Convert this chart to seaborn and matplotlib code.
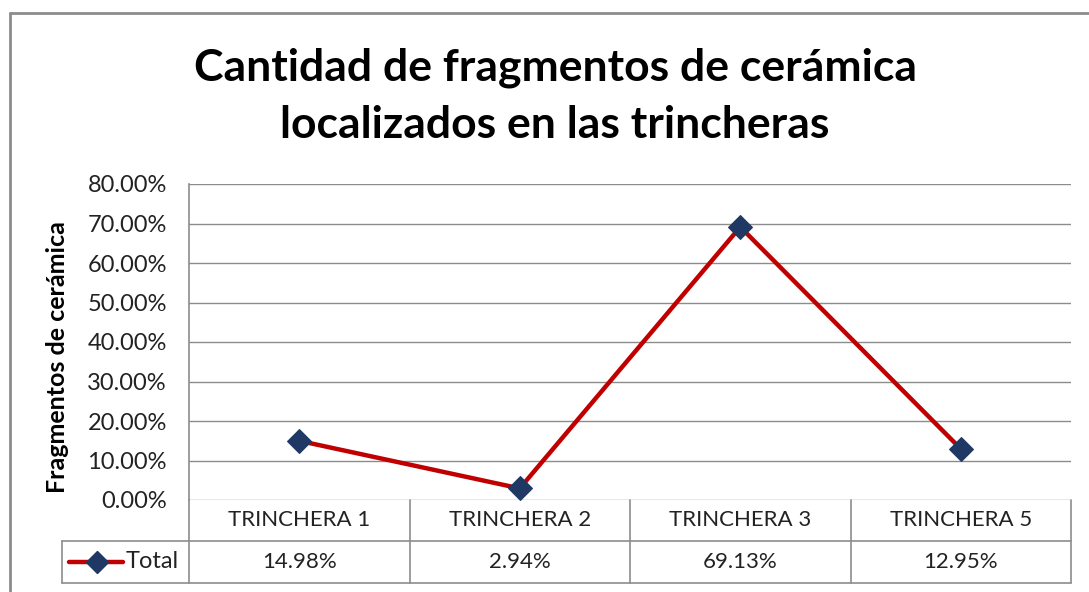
import matplotlib
matplotlib.use("Agg")
import matplotlib.pyplot as plt
from matplotlib.lines import Line2D
import seaborn as sns
import pandas as pd

categories = ["TRINCHERA 1", "TRINCHERA 2", "TRINCHERA 3", "TRINCHERA 5"]
totals = [14.98, 2.94, 69.13, 12.95]
y_ticks = [0, 10, 20, 30, 40, 50, 60, 70, 80]
series_name = "Total"
title_lines = ["Cantidad de fragmentos de cerámica", "localizados en las trincheras"]
y_label = "Fragmentos de cerámica"

sns.set_theme(style="white")
plt.rcParams["font.family"] = ["Lato", "DejaVu Sans"]

W, H = 1089, 592
fig = plt.figure(figsize=(W / 100, H / 100), dpi=100)
fig.patch.set_facecolor("white")

def fx(px):
    return px / W

def fy(py):
    return 1 - py / H

# chart frame
frame_col = "#8c8c8c"
fig.add_artist(Line2D([fx(10), fx(W)], [fy(13), fy(13)], color=frame_col, lw=2))
fig.add_artist(Line2D([fx(10), fx(10)], [fy(13), fy(H)], color=frame_col, lw=2))

left, right, top, bottom = 189, 1071, 184, 500
ax = fig.add_axes([fx(left), fy(bottom), fx(right - left), (bottom - top) / H])

df = pd.DataFrame({"cat": categories, "val": totals, "x": range(len(categories))})
red = "#C00000"
navy = "#1F3864"
sns.lineplot(data=df, x="x", y="val", ax=ax, color=red, lw=3.2,
             marker="D", markersize=12, markerfacecolor=navy,
             markeredgecolor=navy, sort=False)

ax.set_xlim(-0.5, len(categories) - 0.5)
ax.set_ylim(0, 80)
ax.set_yticks(y_ticks)
ax.set_yticklabels([f"{t:.2f}%" for t in y_ticks], fontsize=17, color="#222222")
ax.set_xticks([])
ax.set_xlabel("")
ax.set_ylabel("")
ax.tick_params(axis="y", length=0, pad=16)
grid_col = "#8c8c8c"
ax.grid(axis="y", color=grid_col, lw=1)
for side in ["right", "bottom", "top"]:
    ax.spines[side].set_visible(False)
ax.spines["left"].set_color(grid_col)
ax.spines["left"].set_linewidth(1.2)

# data table below the plot area
row1_top, row_mid, row2_bot = 500, 541, 583
col_w = (right - left) / len(categories)
tcol = "#8c8c8c"
lines = [
    ([left, right], [row_mid, row_mid]),
    ([62, right], [row2_bot, row2_bot]),
    ([62, left], [row_mid, row_mid]),
    ([62, 62], [row_mid, row2_bot]),
    ([left, left], [row1_top, row2_bot]),
    ([right, right], [row1_top, row2_bot]),
]
for i in range(1, len(categories)):
    xc = left + i * col_w
    lines.append(([xc, xc], [row1_top, row2_bot]))
for xs, ys in lines:
    fig.add_artist(Line2D([fx(v) for v in xs], [fy(v) for v in ys], color=tcol, lw=1.2))

for i, (c, v) in enumerate(zip(categories, totals)):
    xc = left + (i + 0.5) * col_w
    fig.text(fx(xc), fy((row1_top + row_mid) / 2), c, ha="center", va="center",
             fontsize=16, color="#222222")
    fig.text(fx(xc), fy((row_mid + row2_bot) / 2), f"{v:.2f}%", ha="center",
             va="center", fontsize=16, color="#222222")

# legend key in the table
ly = fy((row_mid + row2_bot) / 2)
fig.add_artist(Line2D([fx(69), fx(123)], [ly, ly], color=red, lw=3.2))
fig.add_artist(Line2D([fx(97)], [ly], marker="D", markersize=11, color=navy,
                      markerfacecolor=navy, markeredgecolor=navy))
fig.text(fx(126), ly, series_name, ha="left", va="center", fontsize=17, color="#222222")

fig.text(fx(555), fy(68), title_lines[0], ha="center", va="center", fontsize=32,
         fontweight="bold", color="black")
fig.text(fx(555), fy(125), title_lines[1], ha="center", va="center", fontsize=32,
         fontweight="bold", color="black")
fig.text(fx(58), fy(357), y_label, ha="center", va="center", rotation=90,
         fontsize=18, fontweight="bold", color="black")

fig.savefig("out.png", dpi=100, facecolor="white")
